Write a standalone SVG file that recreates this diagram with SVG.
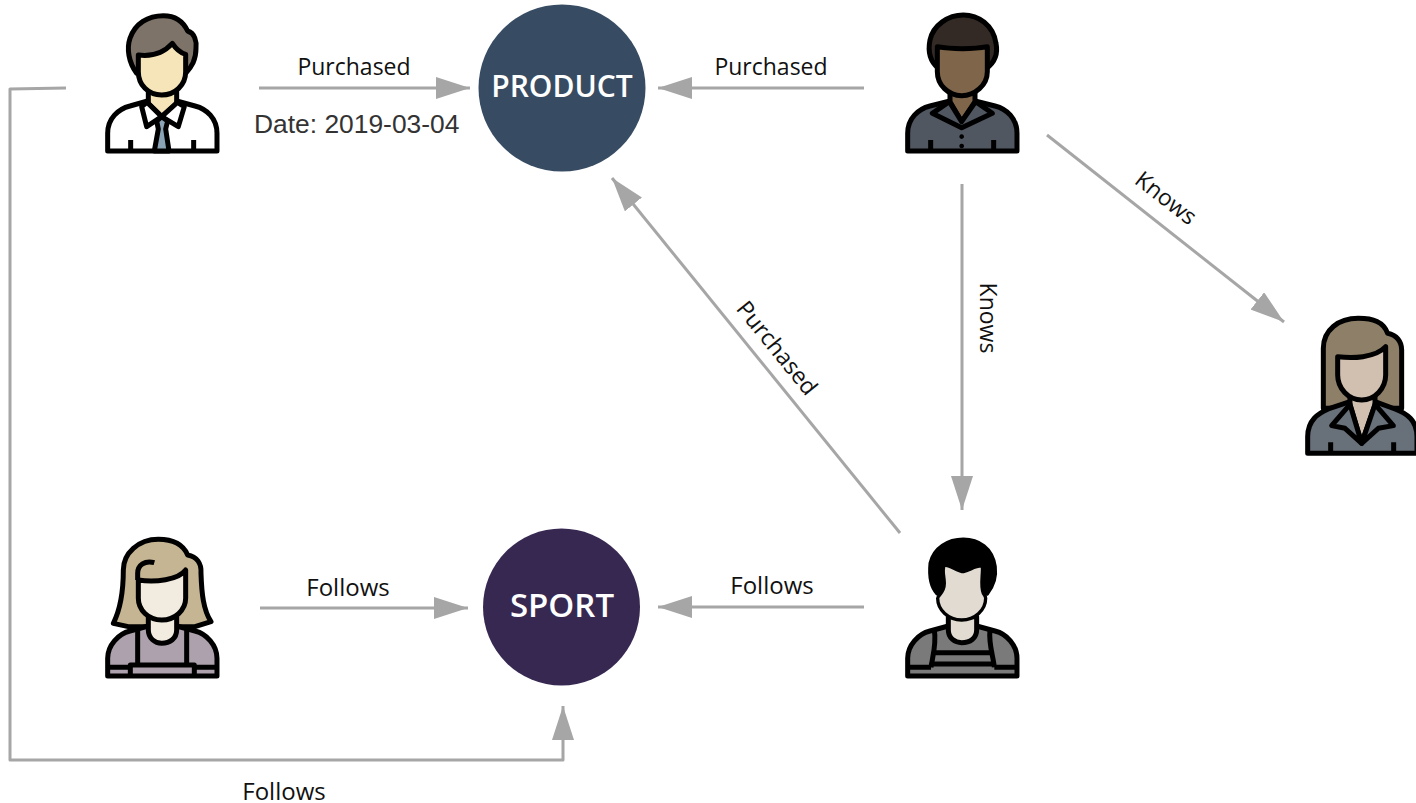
<svg xmlns="http://www.w3.org/2000/svg" width="1416" height="803" viewBox="0 0 1416 803">
<style>
.c{fill:none;stroke:#a6a6a6;stroke-width:3;stroke-linejoin:round}
.l{font-family:"Open Sans",sans-serif;font-size:23px;fill:#111;text-anchor:middle}
.f{font-size:24px}
.d{font-family:"Liberation Sans",sans-serif;font-size:26.4px;fill:#333}
.t{font-family:"Open Sans",sans-serif;font-size:30px;font-weight:600;fill:#fff;text-anchor:middle}
.p path{stroke:#000;stroke-width:15;stroke-linejoin:round;stroke-linecap:butt}
.n{fill:none}
</style>
<defs>
<marker id="a" markerUnits="userSpaceOnUse" markerWidth="36" markerHeight="24" refX="34" refY="11" orient="auto"><path d="M0 0L34 11L0 22Z" fill="#a6a6a6"/></marker>
</defs>
<rect width="1416" height="803" fill="#fff"/>
<g id="connectors">
<path class="c" d="M259 88H470" marker-end="url(#a)"/>
<path class="c" d="M864 88H658" marker-end="url(#a)"/>
<path class="c" d="M1047 135L1284 322" marker-end="url(#a)"/>
<path class="c" d="M962 184V510" marker-end="url(#a)"/>
<path class="c" d="M900 533L612 178" marker-end="url(#a)"/>
<path class="c" d="M864 607H658" marker-end="url(#a)"/>
<path class="c" d="M260 608H468" marker-end="url(#a)"/>
<path class="c" d="M66 88L10 89V760H563V706" marker-end="url(#a)"/>
<text class="l" x="354" y="75">Purchased</text>
<text class="d" x="254" y="133">Date: 2019-03-04</text>
<text class="l" x="771" y="75">Purchased</text>
<text class="l" transform="translate(1166 198) rotate(38)" y="8">Knows</text>
<text class="l" transform="translate(988 318) rotate(90)" y="8">Knows</text>
<text class="l" transform="translate(777 348) rotate(51)" y="8">Purchased</text>
<text class="l f" x="348" y="596">Follows</text>
<text class="l f" x="772" y="594">Follows</text>
<text class="l f" x="284" y="800">Follows</text>
</g>
<g id="product"><circle cx="562" cy="88" r="83.5" fill="#374c63"/><text class="t" x="562" y="97">PRODUCT</text></g>
<g id="sport"><circle cx="561.5" cy="607" r="78.5" fill="#372852"/><text class="t" style="font-size:33px" x="562" y="617">SPORT</text></g>
<g id="person1" class="p" transform="translate(95 5) scale(.3333)">
<path fill="#fff" d="M38 438V385C38 340 70 312 105 303L158 288H245L300 303C335 312 366 340 366 385V438Z"/>
<path fill="#f5e5b8" d="M160 260V296L200 335L245 296V260Z"/>
<path fill="#fff" d="M156 292L140 305L155 365L200 335L250 365L268 305L247 292L200 335Z"/>
<path fill="#8aa4b5" d="M185 348L200 335L218 348L212 372L222 438H178L190 372Z"/>
<path class="n" d="M107 405V438M296 405V438"/>
<path fill="#7d7368" d="M125 205C100 170 95 130 105 100C120 55 160 32 205 32C240 32 265 50 278 78C300 85 305 110 303 130C303 165 290 185 272 205Z"/>
<path fill="#f5e5b8" d="M130 150C170 155 205 145 232 115C245 135 262 145 272 148V200C272 240 240 270 200 270C160 270 130 240 130 200Z"/>
</g>
<g id="person2" class="p" transform="translate(895 5) scale(.3333)">
<path fill="#505761" d="M38 438V385C38 340 70 312 105 303L165 288H240L300 303C335 312 366 340 366 385V438Z"/>
<path fill="#7f6549" d="M165 260V290L200 350L240 290V260Z"/>
<path fill="#505761" d="M163 290L112 325L200 368L292 325L242 290L200 350Z"/>
<path class="n" d="M107 405V438M296 405V438"/>
<path fill="#000" d="M200 388a7 7 0 1 0 .1 0ZM200 416a7 7 0 1 0 .1 0Z" style="stroke:none"/>
<path fill="#332a25" d="M130 190C100 165 100 130 105 105C115 60 160 30 205 30C250 30 295 60 303 115C310 150 295 175 275 190Z"/>
<path fill="#7f6549" d="M127 125C170 133 235 133 277 125V200C277 240 240 272 200 272C160 272 127 240 127 200Z"/>
</g>
<g id="person3" class="p" transform="translate(1295 305) scale(.3333)">
<path fill="#8e7f68" d="M85 310V130C85 75 130 40 190 40C235 40 265 50 278 85C305 90 320 110 320 135V310Z"/>
<path fill="#687079" d="M38 445V395C38 345 70 325 100 312L165 290H240L300 312C335 325 366 345 366 395V445Z"/>
<path fill="#d1bfb0" d="M165 265V300L200 415L240 300V265Z"/>
<path fill="#687079" d="M165 298L110 362L150 370L200 415L250 370L295 362L240 298L200 415Z"/>
<path class="n" d="M107 412V445M296 412V445"/>
<path fill="#d1bfb0" d="M128 155C170 160 240 160 272 125V210C272 250 240 285 200 285C160 285 128 250 128 210Z"/>
</g>
<g id="person4" class="p" transform="translate(95 530) scale(.3333)">
<path fill="#c5b592" d="M55 280C85 220 85 150 85 120C85 70 130 28 190 28C235 28 265 45 278 75C305 80 320 100 318 130C320 190 325 240 348 275L300 290H100Z"/>
<path fill="#aca1ac" d="M38 438V385C38 345 70 312 105 303L160 288H245L300 303C335 312 366 345 366 385V438Z"/>
<path fill="#f2ebe0" d="M160 260V300C160 325 180 340 200 340C225 340 245 325 245 300V260Z"/>
<path class="n" d="M128 300V405M275 300V405M38 412H100M302 412H366M106 438V405H298V438"/>
<path fill="#f2ebe0" d="M130 150C180 158 250 150 272 120V205C272 240 240 270 200 270C160 270 130 240 130 205Z"/>
<path class="n" d="M178 98C150 90 128 105 128 130V150"/>
</g>
<g id="person5" class="p" transform="translate(895 530) scale(.3333)">
<path fill="#7a7a7a" d="M38 438V385C38 345 70 312 105 303L160 288H245L300 303C335 312 366 345 366 385V438Z"/>
<path fill="#e1dbd1" d="M160 260V300C160 325 180 338 200 338C225 338 245 325 245 300V260Z"/>
<path class="n" d="M118 300C125 340 113 380 108 412M285 300C280 340 295 380 298 412M112 368H292M112 402H292M38 412H108M298 412H366"/>
<path fill="#000" d="M128 190C105 165 105 130 108 100C118 55 160 30 205 30C250 30 290 55 298 110C302 140 295 165 275 190Z"/>
<path fill="#e1dbd1" d="M148 105C165 105 190 125 205 125C225 120 245 105 262 108C265 130 255 165 265 190C272 200 272 205 272 205C272 240 240 270 200 270C160 270 128 240 128 205C128 195 148 190 148 160C148 140 140 120 148 105Z" style="stroke-width:10"/>
</g>
</svg>
